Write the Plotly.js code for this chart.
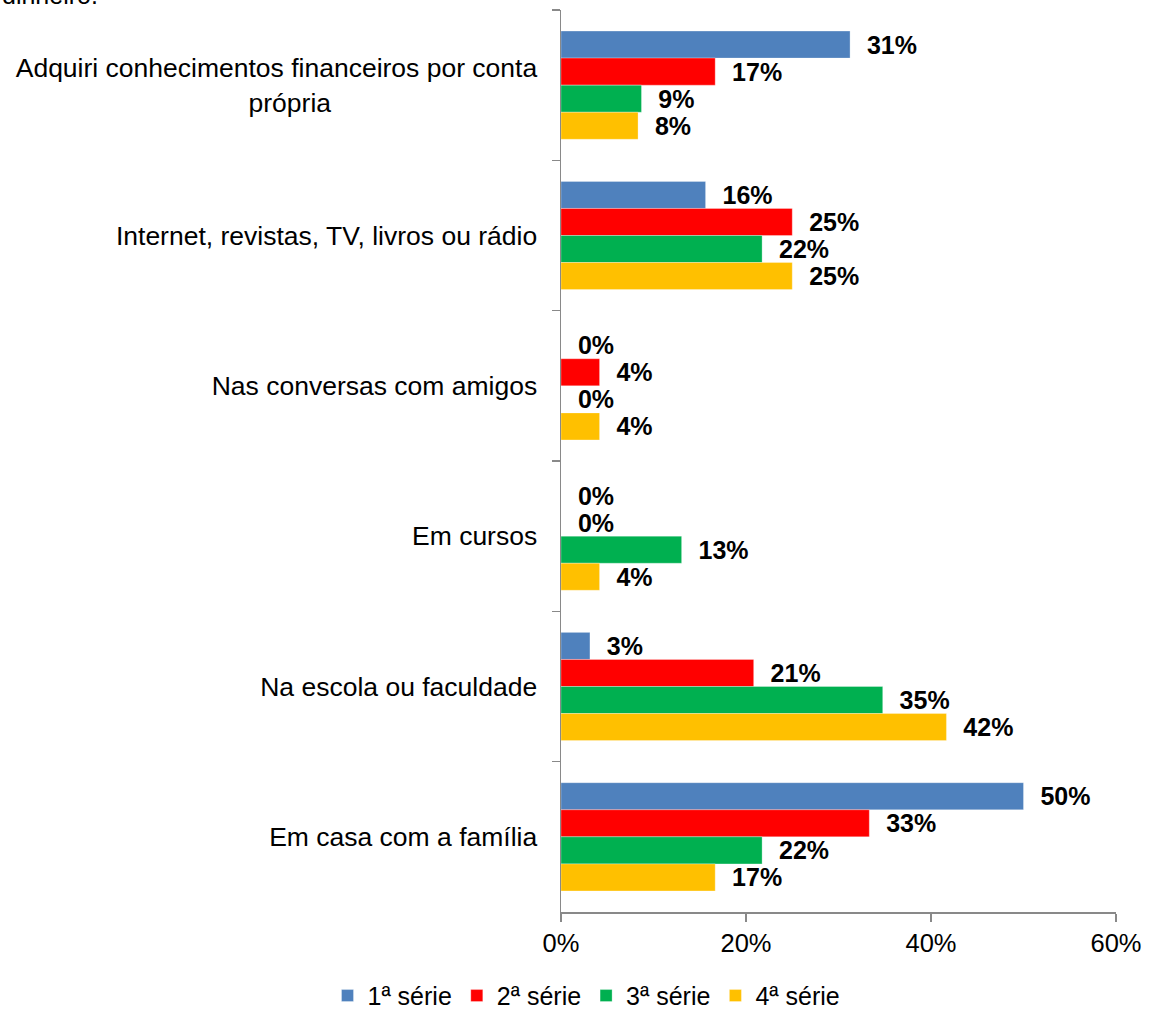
<!DOCTYPE html>
<html>
<head>
<meta charset="utf-8">
<script src="https://cdn.plot.ly/plotly-3.0.1.min.js"></script>
<style>
html,body{margin:0;padding:0;background:#fff;}
#chart{width:1150px;height:1012px;}
</style>
</head>
<body>
<div id="chart"></div>
<script>
var categories = [
  "Adquiri conhecimentos financeiros por conta<br>própria" + "\u00a0".repeat(28),
  "Internet, revistas, TV, livros ou rádio",
  "Nas conversas com amigos",
  "Em cursos",
  "Na escola ou faculdade",
  "Em casa com a família"
];
var seriesNames = ["1ª série", "2ª série", "3ª série", "4ª série"];
var serie1 = [31.25, 15.63, 0, 0, 3.13, 50.0];
var serie2 = [16.67, 25.0, 4.17, 0, 20.83, 33.33];
var serie3 = [8.70, 21.74, 0, 13.04, 34.78, 21.74];
var serie4 = [8.33, 25.0, 4.17, 4.17, 41.67, 16.67];
var colors = ["#4F81BD", "#FF0000", "#00B050", "#FFC000"];
var xTicks = [0, 20, 40, 60];

var allSeries = [serie1, serie2, serie3, serie4];
var font = "Arial, 'Liberation Sans', sans-serif";

var traces = allSeries.map(function (vals, i) {
  return {
    type: "bar",
    orientation: "h",
    name: seriesNames[i],
    y: categories,
    x: vals,
    text: vals.map(function (v) { return "\u00a0\u00a0" + Math.round(v) + "%"; }),
    textposition: "outside",
    cliponaxis: false,
    constraintext: "none",
    textfont: { family: font, size: 25, color: "#000", weight: "bold" },
    marker: { color: colors[i], line: { color: "rgba(255,255,255,0.6)", width: 0.5 } },
    hoverinfo: "skip"
  };
});

var layout = {
  width: 1150,
  height: 1012,
  margin: { l: 561, r: 34, t: 10, b: 100, autoexpand: false },
  paper_bgcolor: "#fff",
  plot_bgcolor: "#fff",
  barmode: "group",
  bargap: 0.28,
  bargroupgap: 0,
  font: { family: font, size: 25, color: "#000" },
  showlegend: true,
  legend: {
    orientation: "h",
    xref: "container",
    yref: "container",
    x: 0.51,
    xanchor: "center",
    y: 0.016,
    yanchor: "middle",
    font: { family: font, size: 25, color: "#000" },
    itemwidth: 30,
    traceorder: "normal"
  },
  xaxis: {
    range: [0, 60],
    tickvals: xTicks,
    ticktext: xTicks.map(function (t) { return t + "%"; }),
    showgrid: false,
    zeroline: false,
    showline: true,
    linecolor: "#898989",
    linewidth: 1.5,
    ticks: "outside",
    ticklen: 8,
    tickcolor: "#898989",
    tickwidth: 1.5,
    tickfont: { family: font, size: 25.5, color: "#000" },
    fixedrange: true
  },
  yaxis: {
    type: "category",
    autorange: "reversed",
    showgrid: false,
    zeroline: false,
    showline: true,
    linecolor: "#898989",
    linewidth: 1.5,
    ticks: "outside",
    tickson: "boundaries",
    ticklen: 8,
    tickcolor: "#898989",
    tickwidth: 1.5,
    ticklabelstandoff: 17,
    tickfont: { family: font, size: 26.5, color: "#000" },
    fixedrange: true
  },
  annotations: [{
    text: "dinheiro.",
    xref: "paper",
    yref: "paper",
    x: -561 / 555,
    xanchor: "left",
    y: 1,
    yanchor: "bottom",
    yshift: -1,
    showarrow: false,
    font: { family: font, size: 25, color: "#000" }
  }]
};

Plotly.newPlot("chart", traces, layout, { displayModeBar: false, staticPlot: true });
</script>
</body>
</html>
